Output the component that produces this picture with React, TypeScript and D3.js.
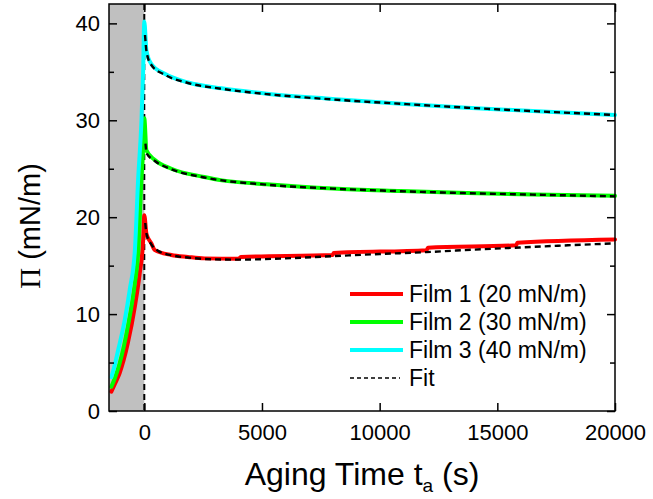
import { useEffect, useRef } from 'react'
import * as d3 from 'd3'

// ── Data ─────────────────────────────────────────────────────────────────────
// Film 1 (20 mN/m): compression then aging
const film1T  = [-1400, -1250, -1050, -700, -400, -200, -50, 0, 90, 300, 450, 1150, 1850, 2550, 4000, 4100, 8000, 8050, 12000, 12050, 15800, 15850, 20000]
const film1Pi = [2.0, 2.8, 3.9, 7.0, 10.8, 14.1, 17.6, 20.2, 18.3, 17.3, 16.6, 16.1, 15.9, 15.75, 15.7, 15.9, 16.1, 16.3, 16.6, 16.85, 17.1, 17.35, 17.7]

// Film 2 (30 mN/m)
const film2T  = [-1400, -1250, -1050, -700, -400, -260, -120, -50, 0, 90, 450, 1150, 2550, 3300, 5200, 8000, 10900, 13700, 16500, 20000]
const film2Pi = [2.5, 3.4, 4.9, 8.7, 13.2, 16.3, 24.0, 27.0, 30.2, 26.9, 25.9, 25.0, 24.15, 23.8, 23.4, 22.95, 22.7, 22.5, 22.35, 22.2]

// Film 3 (40 mN/m)
const film3T  = [-1400, -1250, -1110, -830, -620, -400, -260, -120, -50, 0, 90, 300, 870, 1860, 3280, 5200, 8000, 10900, 13700, 16500, 20000]
const film3Pi = [3.5, 4.8, 6.3, 9.4, 12.5, 16.6, 24.0, 30.0, 35.0, 40.2, 37.2, 35.8, 34.8, 33.9, 33.3, 32.75, 32.2, 31.7, 31.3, 30.95, 30.55]

// Fits (aging part only)
const fit1T  = [40, 100, 300, 600, 1200, 2000, 3000, 4000, 6000, 8000, 10000, 12000, 14000, 16000, 18000, 20000]
const fit1Pi = [19.4, 18.2, 17.2, 16.5, 16.05, 15.8, 15.65, 15.62, 15.75, 15.98, 16.2, 16.4, 16.65, 16.88, 17.1, 17.3]
const fit2T  = [50, 100, 450, 1150, 2550, 5200, 8000, 10900, 13700, 16500, 20000]
const fit2Pi = [27.6, 26.6, 25.8, 24.95, 24.1, 23.35, 22.95, 22.68, 22.48, 22.33, 22.15]
const fit3T  = [30, 100, 300, 870, 1860, 3280, 5200, 8000, 10900, 13700, 16500, 20000]
const fit3Pi = [38.8, 37.0, 35.7, 34.7, 33.85, 33.25, 32.7, 32.15, 31.7, 31.3, 30.95, 30.55]

const xTicks = [0, 5000, 10000, 15000, 20000]
const yTicks = [0, 10, 20, 30, 40]
const yMinorTicks = [5, 15, 25, 35]

const SERIES = [
  { label: 'Film 1 (20 mN/m)', t: film1T, v: film1Pi, color: '#FF0000' },
  { label: 'Film 2 (30 mN/m)', t: film2T, v: film2Pi, color: '#00FF00' },
  { label: 'Film 3 (40 mN/m)', t: film3T, v: film3Pi, color: '#00FFFF' },
]
const FITS = [
  { t: fit1T, v: fit1Pi },
  { t: fit2T, v: fit2Pi },
  { t: fit3T, v: fit3Pi },
]

const W = 653
const H = 499
const FONT = '"Liberation Sans", Arial, sans-serif'

export default function App() {
  const svgRef = useRef<SVGSVGElement | null>(null)

  useEffect(() => {
    if (!svgRef.current) return
    const svg = d3.select(svgRef.current)
    svg.selectAll('*').remove()

    const left = 109, right = 615, top = 4, bottom = 411

    const x = d3.scaleLinear().domain([-1500, 20000]).range([left, right])
    const y = d3.scaleLinear().domain([0, 42]).range([bottom, top])

    // gray compression region
    svg.append('rect')
      .attr('x', x(-1500)).attr('y', top)
      .attr('width', x(0) - x(-1500)).attr('height', bottom - top)
      .attr('fill', '#C0C0C0')

    // dashed line at t = 0
    svg.append('line')
      .attr('x1', x(0)).attr('x2', x(0)).attr('y1', top).attr('y2', bottom)
      .attr('stroke', '#000').attr('stroke-width', 2).attr('stroke-dasharray', '6,4')

    // data curves
    const line = d3.line<[number, number]>()
      .x(d => x(d[0])).y(d => y(d[1]))
      .curve(d3.curveMonotoneX)

    SERIES.forEach(s => {
      const pts = s.t.map((t, i) => [t, s.v[i]] as [number, number])
      svg.append('path')
        .attr('d', line(pts))
        .attr('fill', 'none').attr('stroke', s.color)
        .attr('stroke-width', 4).attr('stroke-linejoin', 'round').attr('stroke-linecap', 'round')
    })

    // fits
    FITS.forEach(f => {
      const pts = f.t.map((t, i) => [t, f.v[i]] as [number, number])
      svg.append('path')
        .attr('d', line(pts))
        .attr('fill', 'none').attr('stroke', '#000')
        .attr('stroke-width', 2.4).attr('stroke-dasharray', '6,4')
    })

    // frame
    svg.append('rect')
      .attr('x', left).attr('y', top).attr('width', right - left).attr('height', bottom - top)
      .attr('fill', 'none').attr('stroke', '#000').attr('stroke-width', 1.5)

    const styleAxis = ax => {
      ax.select('.domain').remove()
      ax.selectAll('.tick line').attr('stroke', '#000').attr('stroke-width', 1.5)
      ax.selectAll('text').attr('fill', '#000').attr('font-size', '22px').attr('font-family', FONT)
    }

    // bottom axis
    svg.append('g').attr('transform', `translate(0,${bottom})`)
      .call(d3.axisBottom(x).tickValues(xTicks).tickSizeInner(-8).tickSizeOuter(0).tickPadding(13).tickFormat(d3.format('d')))
      .call(styleAxis)
    // top axis
    svg.append('g').attr('transform', `translate(0,${top})`)
      .call(d3.axisTop(x).tickValues(xTicks).tickSizeInner(-8).tickSizeOuter(0).tickFormat(() => ''))
      .call(styleAxis)
    // left axis
    svg.append('g').attr('transform', `translate(${left},0)`)
      .call(d3.axisLeft(y).tickValues(yTicks).tickSizeInner(-8).tickSizeOuter(0).tickPadding(9).tickFormat(d3.format('d')))
      .call(styleAxis)
    svg.append('g').attr('transform', `translate(${left},0)`)
      .call(d3.axisLeft(y).tickValues(yMinorTicks).tickSizeInner(-5).tickSizeOuter(0).tickFormat(() => ''))
      .call(styleAxis)
    // right axis
    svg.append('g').attr('transform', `translate(${right},0)`)
      .call(d3.axisRight(y).tickValues(yTicks).tickSizeInner(-8).tickSizeOuter(0).tickFormat(() => ''))
      .call(styleAxis)
    svg.append('g').attr('transform', `translate(${right},0)`)
      .call(d3.axisRight(y).tickValues(yMinorTicks).tickSizeInner(-5).tickSizeOuter(0).tickFormat(() => ''))
      .call(styleAxis)

    // legend
    const legendRows = [
      ...SERIES.map(s => ({ label: s.label, color: s.color, dashed: false })),
      { label: 'Fit', color: '#000', dashed: true },
    ]
    legendRows.forEach((r, i) => {
      const ly = 294 + i * 28
      svg.append('line')
        .attr('x1', 350).attr('x2', r.dashed ? 400 : 403).attr('y1', ly).attr('y2', ly)
        .attr('stroke', r.color).attr('stroke-width', r.dashed ? 1.5 : 4)
        .attr('stroke-dasharray', r.dashed ? '4,3' : null)
      svg.append('text')
        .attr('x', 409).attr('y', ly + 8)
        .attr('font-family', FONT).attr('font-size', '23px').attr('fill', '#000')
        .text(r.label)
    })

    // x title
    const xt = svg.append('text')
      .attr('x', 362).attr('y', 485).attr('text-anchor', 'middle')
      .attr('font-family', FONT).attr('font-size', '32px').attr('fill', '#000')
    xt.append('tspan').text('Aging Time t')
    xt.append('tspan').attr('font-size', '19px').attr('dy', 7).text('a')
    xt.append('tspan').attr('dy', -7).text(' (s)')

    // y title
    const yt = svg.append('text')
      .attr('transform', 'translate(40,226) rotate(-90)').attr('text-anchor', 'middle')
      .attr('font-size', '29px').attr('fill', '#000')
    yt.append('tspan').attr('font-family', '"Liberation Serif", "Times New Roman", serif').text('Π')
    yt.append('tspan').attr('font-family', FONT).text(' (mN/m)')
  }, [])

  return (
    <div style={{ position: 'absolute', left: 0, top: 0, width: W, height: H, background: '#fff' }}>
      <svg ref={svgRef} width={W} height={H} style={{ display: 'block' }} />
    </div>
  )
}
